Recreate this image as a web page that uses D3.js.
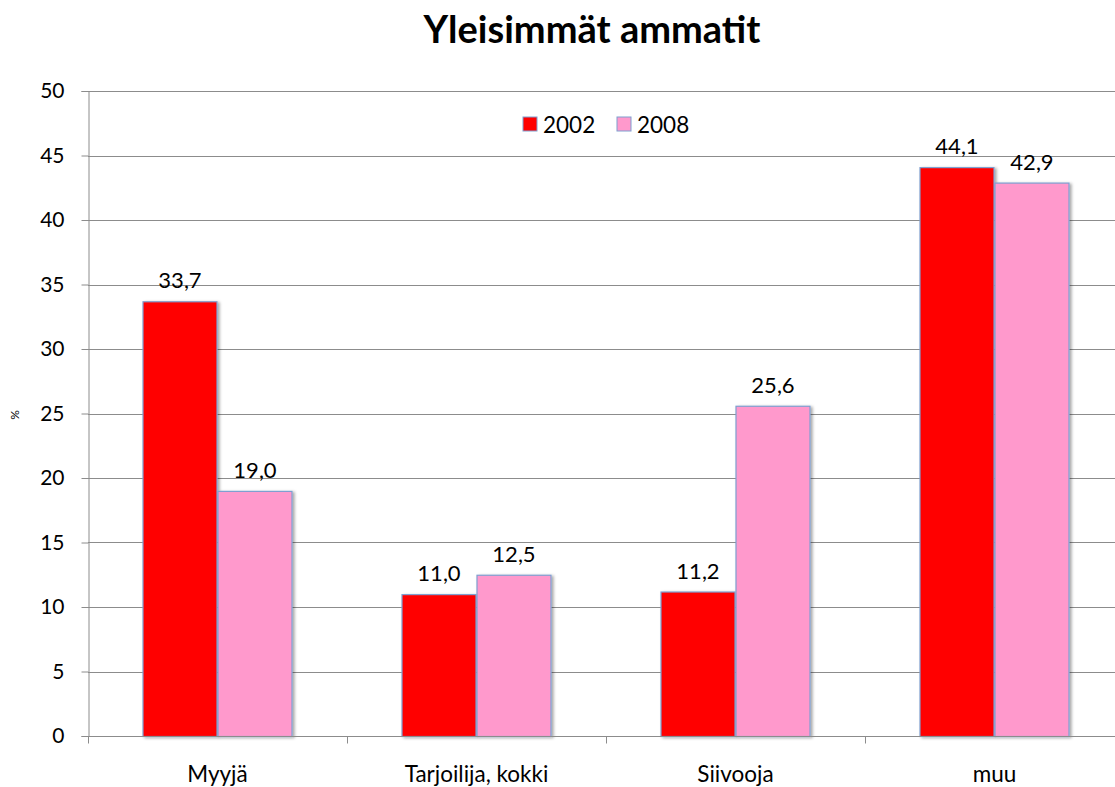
<!DOCTYPE html>
<html>
<head>
<meta charset="utf-8">
<script src="https://cdn.jsdelivr.net/npm/d3@7"></script>
<style>
  body { margin: 0; background: #fff; }
  svg { font-family: Lato, "Open Sans", sans-serif; }
</style>
</head>
<body>
<div id="chart"></div>
<script>
// data
var categories = ["Myyjä", "Tarjoilija, kokki", "Siivooja", "muu"];
var seriesNames = ["2002", "2008"];
var values2002 = [33.7, 11.0, 11.2, 44.1];
var values2008 = [19.0, 12.5, 25.6, 42.9];
var yTicks = [0, 5, 10, 15, 20, 25, 30, 35, 40, 45, 50];
var colors = ["#ff0000", "#ff99cc"];

var width = 1115, height = 787;
var plotLeft = 88, catW = 259, plotTop = 91, plotBottom = 736;

var svg = d3.select("#chart").append("svg")
    .attr("width", width)
    .attr("height", height);

var defs = svg.append("defs");
var f = defs.append("filter").attr("id", "shadow")
    .attr("x", "-10%").attr("y", "-10%").attr("width", "130%").attr("height", "130%");
f.append("feDropShadow").attr("dx", 2).attr("dy", 1).attr("stdDeviation", 1.5)
    .attr("flood-color", "#000").attr("flood-opacity", 0.35);

var x0 = d3.scaleBand()
    .domain(categories)
    .range([plotLeft, plotLeft + catW * categories.length])
    .padding(0);

var x1 = d3.scaleBand()
    .domain(seriesNames)
    .range([(catW - 150) / 2, (catW + 150) / 2]);

var y = d3.scaleLinear()
    .domain([0, 50])
    .range([plotBottom, plotTop]);

// gridlines
svg.append("g")
    .selectAll("line")
    .data(yTicks.filter(function (d) { return d > 0; }))
    .enter().append("line")
    .attr("x1", plotLeft).attr("x2", width)
    .attr("y1", function (d) { return Math.round(y(d)) + 0.5; })
    .attr("y2", function (d) { return Math.round(y(d)) + 0.5; })
    .attr("stroke", "#8c8c8c").attr("stroke-width", 1);

// y axis
var yAxis = svg.append("g")
    .attr("transform", "translate(" + (plotLeft + 0.5) + ",0)")
    .call(d3.axisLeft(y).tickValues(yTicks).tickSize(7).tickPadding(17));
yAxis.select(".domain").attr("stroke", "#8c8c8c");
yAxis.selectAll(".tick line").attr("stroke", "#8c8c8c");
yAxis.selectAll(".tick text")
    .attr("font-family", "Lato, sans-serif")
    .attr("font-size", 21)
    .attr("fill", "#000");

svg.append("text")
    .attr("transform", "translate(19,415) rotate(-90)")
    .attr("text-anchor", "middle")
    .attr("font-size", 12)
    .text("%");

// bars
var rows = categories.map(function (c, i) {
    return { cat: c, vals: [
        { s: seriesNames[0], v: values2002[i], c: colors[0] },
        { s: seriesNames[1], v: values2008[i], c: colors[1] }
    ] };
});

var groups = svg.append("g").selectAll("g")
    .data(rows)
    .enter().append("g")
    .attr("transform", function (d) { return "translate(" + x0(d.cat) + ",0)"; });

groups.selectAll("rect")
    .data(function (d) { return d.vals; })
    .enter().append("rect")
    .attr("x", function (d) { return x1(d.s) + 0.5; })
    .attr("y", function (d) { return y(d.v) + 0.5; })
    .attr("width", x1.bandwidth() - 1)
    .attr("height", function (d) { return plotBottom - y(d.v); })
    .attr("fill", function (d) { return d.c; })
    .attr("stroke", "#7f9fd0")
    .attr("stroke-width", 1.2)
    .attr("filter", "url(#shadow)");

groups.selectAll("text")
    .data(function (d) { return d.vals; })
    .enter().append("text")
    .attr("x", function (d) { return x1(d.s) + x1.bandwidth() / 2; })
    .attr("y", function (d) { return y(d.v) - 13; })
    .attr("text-anchor", "middle")
    .attr("font-size", 22)
    .text(function (d) { return d.v.toFixed(1).replace(".", ","); });

// x axis
var xAxis = svg.append("g")
    .attr("transform", "translate(0," + (plotBottom + 0.5) + ")");
xAxis.append("line")
    .attr("x1", plotLeft).attr("x2", width)
    .attr("stroke", "#8c8c8c");
xAxis.selectAll("line.tk")
    .data(d3.range(categories.length + 1))
    .enter().append("line")
    .attr("class", "tk")
    .attr("x1", function (i) { return plotLeft + i * catW + 0.5; })
    .attr("x2", function (i) { return plotLeft + i * catW + 0.5; })
    .attr("y1", 0).attr("y2", 7)
    .attr("stroke", "#8c8c8c");
xAxis.selectAll("text")
    .data(categories)
    .enter().append("text")
    .attr("x", function (d) { return x0(d) + catW / 2; })
    .attr("y", 45)
    .attr("text-anchor", "middle")
    .attr("font-size", 22.5)
    .text(function (d) { return d; });

// legend
var legend = svg.append("g").attr("transform", "translate(523,117)");
var li = legend.selectAll("g")
    .data(seriesNames)
    .enter().append("g")
    .attr("transform", function (d, i) { return "translate(" + (i * 94) + ",0)"; });
li.append("rect")
    .attr("width", 14).attr("height", 14)
    .attr("fill", function (d, i) { return colors[i]; })
    .attr("stroke", "#7f9fd0");
li.append("text")
    .attr("x", 20).attr("y", 15.5)
    .attr("font-size", 22.5)
    .text(function (d) { return d; });

// title
svg.append("text")
    .attr("x", 592).attr("y", 43)
    .attr("text-anchor", "middle")
    .attr("font-size", 38)
    .attr("font-weight", "bold")
    .text("Yleisimmät ammatit");
</script>
</body>
</html>
